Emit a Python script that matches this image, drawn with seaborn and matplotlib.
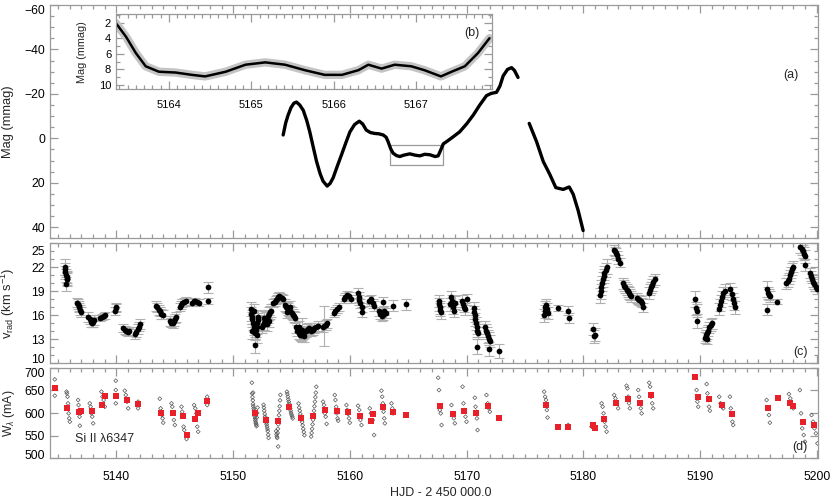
import matplotlib
matplotlib.use("Agg")
import matplotlib.pyplot as plt
from matplotlib.patches import Rectangle
from matplotlib.ticker import MultipleLocator, FixedLocator
from matplotlib.transforms import ScaledTranslation
import seaborn as sns

# light curve (a), two segments
lc1_t = [5154.28, 5154.5, 5154.7, 5154.95, 5155.2, 5155.42, 5155.7, 5156.0, 5156.3, 5156.56,
         5156.85, 5157.14, 5157.45, 5157.7, 5158.05, 5158.3, 5158.56, 5158.9, 5159.28, 5159.65,
         5160.0, 5160.4, 5160.8, 5161.1, 5161.4, 5161.75, 5162.1, 5162.5, 5162.85, 5163.1,
         5163.27, 5163.5, 5163.7, 5164.0, 5164.28, 5164.6, 5165.13, 5165.6, 5166.0, 5166.4,
         5166.85, 5167.3, 5167.56, 5167.8, 5168.0, 5168.28, 5168.8, 5169.4, 5170.0, 5170.56,
         5171.1, 5171.7, 5172.1, 5172.56, 5172.85, 5173.13, 5173.5, 5173.85, 5174.1, 5174.4]
lc1_mag = [-1.5, -7.0, -10.4, -13.8, -15.8, -16.3, -15.0, -12.6, -8.0, -2.9,
           3.8, 10.4, 16.0, 19.3, 21.5, 20.3, 17.8, 12.8, 7.4, 2.0,
           -2.9, -6.2, -7.7, -6.4, -3.7, -2.6, -2.2, -2.0, -1.5, -0.5,
           1.5, 4.8, 6.7, 7.8, 8.2, 7.6, 7.0, 7.6, 7.9, 7.2,
           7.4, 8.2, 7.9, 5.0, 2.5, 1.5, -0.5, -2.9, -6.5, -10.4,
           -14.8, -19.2, -20.2, -20.7, -23.5, -28.1, -31.0, -31.8, -30.5, -27.4]
lc2_t = [5175.36, 5175.99, 5176.56, 5177.13, 5177.64, 5178.27, 5178.79, 5179.13, 5179.56, 5179.98]
lc2_mag = [-6.7, 1.5, 10.4, 16.3, 22.2, 23.0, 21.9, 25.2, 32.6, 41.5]

# zoomed light curve (b)
zoom_t = [5163.36, 5163.48, 5163.6, 5163.72, 5163.88, 5164.08, 5164.28, 5164.44, 5164.69, 5164.93,
          5165.17, 5165.41, 5165.65, 5165.89, 5166.1, 5166.3, 5166.42, 5166.58, 5166.74, 5166.94,
          5167.1, 5167.3, 5167.43, 5167.59, 5167.75, 5167.89]
zoom_mag = [2.1, 3.8, 5.9, 7.6, 8.3, 8.4, 8.7, 8.9, 8.3, 7.4,
            7.1, 7.4, 8.1, 8.7, 8.7, 8.1, 7.4, 7.9, 7.4, 7.6,
            8.1, 8.9, 8.3, 7.6, 5.9, 4.0]

# radial velocities (c)
vrad_t = [
    5135.55, 5135.6, 5135.62, 5135.68, 5135.72, 5135.75, 5135.8, 5135.7,
    5136.6, 5136.68, 5136.75, 5136.82, 5136.9, 5136.98,
    5137.6, 5137.7, 5137.8, 5137.9, 5138.0, 5138.1,
    5138.6, 5138.75, 5138.9, 5139.05,
    5139.88, 5139.95, 5140.0,
    5140.6, 5140.7, 5140.8, 5140.95, 5141.1,
    5141.6, 5141.7, 5141.8, 5141.9, 5142.0,
    5143.4, 5143.5, 5143.6, 5143.7, 5143.8, 5143.95,
    5144.6, 5144.7, 5144.8, 5144.9, 5145.0, 5145.1,
    5145.4, 5145.5, 5145.65, 5145.8, 5145.95,
    5146.45, 5146.6, 5146.75, 5146.9, 5147.05,
    5147.8, 5147.8,
    5151.5, 5151.55, 5151.6, 5151.65, 5151.7, 5151.75, 5151.8, 5151.85, 5151.9, 5151.95,
    5152.0, 5152.05, 5152.1, 5152.15, 5151.6, 5151.8, 5152.0, 5151.9,
    5152.45, 5152.55, 5152.65, 5152.75, 5152.85, 5152.95, 5153.05, 5153.15, 5153.25,
    5152.6, 5152.9, 5153.1,
    5153.45, 5153.55, 5153.65, 5153.75, 5153.85, 5153.95, 5154.05, 5154.15, 5154.25,
    5154.4, 5154.5, 5154.6, 5154.7, 5154.8, 5154.9, 5155.0, 5155.1, 5155.2, 5155.3, 5154.6, 5154.9,
    5155.4, 5155.5, 5155.6, 5155.7, 5155.8, 5155.9, 5156.0, 5156.1, 5156.2, 5156.3, 5156.4, 5156.5,
    5155.6, 5155.9, 5156.1,
    5156.65, 5156.8, 5156.95, 5157.1, 5157.25,
    5157.65, 5157.8, 5157.95, 5158.05,
    5158.6, 5158.75, 5158.9, 5159.05,
    5159.45, 5159.6, 5159.75, 5159.9, 5160.05,
    5160.7, 5160.75, 5160.8, 5160.9, 5161.0, 5161.05,
    5161.65, 5161.8, 5161.95, 5162.05,
    5162.45, 5162.6, 5162.75, 5162.85, 5162.95, 5163.05, 5162.85,
    5163.7, 5164.8,
    5167.6, 5167.65, 5167.7, 5167.75, 5167.8,
    5168.6, 5168.7, 5168.75, 5168.8, 5168.9, 5169.0,
    5169.6, 5169.7, 5169.8, 5169.9, 5170.0,
    5170.6, 5170.65, 5170.7, 5170.75, 5170.8, 5170.85, 5170.9, 5170.95, 5170.85,
    5171.6, 5171.7, 5171.75, 5171.8, 5171.9, 5172.0, 5171.9,
    5172.8,
    5176.6, 5176.7, 5176.75, 5176.8, 5176.9, 5177.0,
    5177.8, 5178.7, 5178.8,
    5180.8, 5180.9, 5181.0,
    5181.4, 5181.5, 5181.55, 5181.6, 5181.7, 5181.75, 5181.8, 5181.9, 5182.0,
    5182.6, 5182.7, 5182.8, 5182.9, 5183.0, 5183.1,
    5183.4, 5183.5, 5183.6, 5183.7, 5183.8, 5183.9, 5184.0, 5184.1,
    5184.6, 5184.7, 5184.8, 5184.9, 5185.0, 5185.1,
    5185.6, 5185.7, 5185.8, 5185.9, 5186.0, 5186.1,
    5189.6, 5189.65, 5189.7, 5189.75,
    5190.4, 5190.5, 5190.6, 5190.7, 5190.8, 5190.9, 5191.0, 5190.6,
    5191.6, 5191.7, 5191.8, 5191.9, 5192.0, 5192.1,
    5192.6, 5192.7, 5192.8, 5192.9, 5193.0,
    5195.7, 5195.8, 5195.9, 5196.0, 5195.7,
    5196.6,
    5197.4, 5197.5, 5197.6, 5197.7, 5197.8, 5197.9, 5198.0,
    5198.6, 5198.7, 5198.8, 5198.9, 5199.0, 5199.0,
    5199.4, 5199.5, 5199.6, 5199.7, 5199.8, 5199.9, 5200.0,
]
vrad_v = [
    22.1, 21.8, 21.4, 21.0, 20.8, 20.5, 20.6, 19.9,
    17.6, 17.4, 17.2, 17.0, 16.7, 16.4,
    15.8, 15.5, 15.2, 15.1, 15.2, 15.4,
    15.7, 15.8, 15.9, 16.0,
    16.6, 16.9, 17.1,
    14.4, 14.2, 14.0, 13.9, 14.0,
    13.7, 13.9, 14.3, 14.6, 14.9,
    17.2, 17.0, 16.7, 16.5, 16.2, 16.1,
    15.3, 15.1, 15.0, 15.3, 15.6, 15.8,
    17.1, 17.3, 17.6, 17.7, 17.8,
    17.6, 17.8, 17.8, 17.7, 17.6,
    19.5, 17.8,
    16.8, 16.2, 15.8, 15.5, 15.1, 14.8, 14.4, 14.0, 13.8, 14.2,
    14.6, 15.0, 15.4, 15.8, 14.0, 16.5, 13.5, 12.3,
    14.6, 14.8, 15.0, 15.3, 15.6, 15.9, 16.2, 16.4, 16.6,
    15.7, 14.9, 15.3,
    17.5, 17.7, 17.9, 18.1, 18.3, 18.4, 18.3, 18.2, 18.0,
    17.3, 17.1, 17.0, 16.8, 16.6, 16.5, 16.3, 16.1, 15.9, 15.7, 16.4, 17.1,
    14.5, 14.1, 13.8, 13.6, 13.5, 13.6, 13.7, 13.9, 14.0, 14.2, 14.3, 14.4,
    14.6, 14.2, 13.4,
    14.0, 14.2, 14.4, 14.5, 14.7,
    14.5, 14.7, 14.8, 15.0,
    16.3, 16.5, 16.8, 17.0,
    18.0, 18.3, 18.5, 18.4, 18.1,
    18.8, 18.3, 17.9, 17.5, 17.0, 16.4,
    17.8, 18.0, 17.5, 17.2,
    16.5, 16.2, 15.9, 16.0, 16.6, 16.3, 17.7,
    17.2, 17.4,
    17.8, 17.4, 17.0, 16.7, 16.4,
    17.4, 18.3, 17.8, 17.0, 16.6, 17.6,
    17.8, 17.4, 17.1, 16.8, 18.0,
    16.9, 16.4, 16.0, 15.5, 15.0, 14.5, 14.1, 13.8, 12.1,
    14.5, 14.1, 13.8, 13.4, 13.1, 12.8, 11.8,
    11.5,
    16.0, 16.5, 17.0, 17.3, 16.8, 16.3,
    16.9, 16.6, 15.7,
    14.3, 13.4, 13.6,
    18.5, 19.0, 19.5, 20.0, 20.5, 20.9, 21.3, 21.7, 22.1,
    24.2, 24.0, 23.8, 23.5, 23.0, 22.6,
    20.0, 19.7, 19.5, 19.2, 19.0, 18.8, 18.6, 18.4,
    18.2, 18.0, 17.9, 17.8, 17.6, 17.0,
    18.8, 19.2, 19.5, 19.8, 20.2, 20.5,
    18.0, 16.9, 16.6, 15.3,
    13.2, 13.5, 13.8, 14.1, 14.5, 14.8, 15.0, 13.1,
    16.8, 17.3, 17.8, 18.3, 18.8, 19.1,
    19.3, 18.7, 18.0, 17.5, 17.0,
    19.3, 18.8, 18.6, 18.4, 16.7,
    17.7,
    20.0, 20.3, 20.6, 21.0, 21.4, 21.8, 22.1,
    24.6, 24.3, 24.0, 23.7, 23.4, 22.3,
    21.3, 20.9, 20.6, 20.2, 19.9, 19.6, 19.3,
]
vrad_err = [
    1.0, 0.8, 0.8, 0.8, 0.8, 0.8, 0.8, 0.9,
    0.6, 0.6, 0.6, 0.6, 0.6, 0.6,
    0.6, 0.6, 0.6, 0.6, 0.6, 0.6,
    0.4, 0.4, 0.4, 0.4,
    0.5, 0.5, 0.5,
    0.5, 0.5, 0.5, 0.5, 0.5,
    0.6, 0.6, 0.6, 0.6, 0.6,
    0.6, 0.6, 0.6, 0.6, 0.6, 0.6,
    0.6, 0.6, 0.6, 0.6, 0.6, 0.6,
    0.5, 0.5, 0.5, 0.5, 0.5,
    0.4, 0.4, 0.4, 0.4, 0.4,
    0.65, 0.4,
    0.9, 0.9, 0.9, 0.9, 0.9, 0.9, 0.9, 0.9, 0.9, 0.9,
    0.9, 0.9, 0.9, 0.9, 0.9, 0.9, 0.9, 1.0,
    0.8, 0.8, 0.8, 0.8, 0.8, 0.8, 0.8, 0.8, 0.8,
    0.8, 0.8, 0.8,
    0.5, 0.5, 0.5, 0.5, 0.5, 0.5, 0.5, 0.5, 0.5,
    0.7, 0.7, 0.7, 0.7, 0.7, 0.7, 0.7, 0.7, 0.7, 0.7, 0.7, 0.7,
    0.7, 0.7, 0.7, 0.7, 0.7, 0.7, 0.7, 0.7, 0.7, 0.7, 0.7, 0.7,
    0.7, 1.5, 0.7,
    0.6, 0.6, 0.6, 0.6, 0.6,
    0.6, 2.5, 0.6, 0.6,
    0.5, 0.5, 0.5, 0.5,
    0.5, 0.5, 0.5, 0.5, 0.5,
    0.6, 0.6, 0.6, 0.6, 0.6, 0.6,
    0.6, 0.6, 0.6, 0.6,
    0.6, 0.6, 0.6, 0.6, 0.6, 0.6, 0.6,
    0.7, 0.7,
    0.8, 0.8, 0.8, 0.8, 0.8,
    0.8, 0.8, 0.8, 0.8, 0.8, 0.8,
    0.7, 0.7, 0.7, 0.7, 0.7,
    0.8, 0.8, 0.8, 0.8, 0.8, 0.8, 0.8, 0.8, 0.9,
    0.8, 0.8, 0.8, 0.8, 0.8, 0.8, 0.9,
    0.9,
    0.8, 0.8, 0.8, 0.8, 0.8, 0.8,
    0.4, 0.6, 0.6,
    0.8, 0.8, 0.8,
    0.9, 0.9, 0.9, 0.9, 0.9, 0.9, 0.9, 0.9, 0.9,
    0.6, 0.6, 0.6, 0.6, 0.6, 0.6,
    0.7, 0.7, 0.7, 0.7, 0.7, 0.7, 0.7, 0.7,
    0.6, 0.6, 0.6, 0.6, 0.6, 0.6,
    0.7, 0.7, 0.7, 0.7, 0.7, 0.7,
    1.0, 0.8, 0.8, 0.9,
    0.7, 0.7, 0.7, 0.7, 0.7, 0.7, 0.7, 0.7,
    0.8, 0.8, 0.8, 0.8, 0.8, 0.8,
    0.8, 0.8, 0.8, 0.8, 0.8,
    1.0, 0.7, 0.7, 0.7, 0.7,
    0.3,
    0.7, 0.7, 0.7, 0.7, 0.7, 0.7, 0.7,
    0.8, 0.8, 0.8, 0.8, 0.8, 0.8,
    0.6, 0.6, 0.6, 0.6, 0.6, 0.6, 0.6,
]

# equivalent widths (d): individual spectra and nightly means
ew_t = [
    5134.71, 5134.71,
    5135.72, 5135.75, 5135.8, 5135.85, 5135.9, 5135.95, 5136.0,
    5136.71, 5136.75, 5136.8, 5136.83, 5136.86,
    5137.71, 5137.78, 5137.85, 5137.92, 5138.0,
    5138.71, 5138.8, 5138.9, 5139.0,
    5139.94, 5139.94, 5139.94, 5139.94,
    5140.71, 5140.8, 5140.9, 5141.0,
    5141.85, 5141.85, 5141.85,
    5143.71, 5143.78, 5143.84, 5143.9, 5143.95, 5144.0,
    5144.71, 5144.78, 5144.85, 5144.92, 5145.0,
    5145.57, 5145.63, 5145.7, 5145.75, 5145.8,
    5146.0,
    5146.65, 5146.75, 5146.85, 5146.92, 5147.0,
    5147.77, 5147.77,
    5151.6, 5151.62, 5151.65, 5151.68, 5151.7, 5151.72, 5151.75, 5151.78, 5151.8, 5151.82,
    5151.85, 5151.88, 5151.9, 5151.92, 5151.95, 5151.98, 5152.0, 5152.02, 5152.05, 5152.08, 5151.7,
    5152.6, 5152.63, 5152.66, 5152.7, 5152.73, 5152.76, 5152.8, 5152.83, 5152.86, 5152.9,
    5152.93, 5152.96, 5153.0, 5153.03,
    5153.68, 5153.71, 5153.74, 5153.77, 5153.8, 5153.83, 5153.86, 5153.89, 5153.92, 5153.95,
    5153.98, 5154.01, 5154.04, 5153.85,
    5154.6, 5154.64, 5154.68, 5154.72, 5154.76, 5154.8, 5154.84, 5154.88, 5154.92, 5154.96,
    5155.0, 5155.05, 5155.1,
    5155.6, 5155.65, 5155.7, 5155.75, 5155.8, 5155.85, 5155.9, 5155.95, 5156.0, 5156.05, 5156.1,
    5156.68, 5156.72, 5156.76, 5156.8, 5156.84, 5156.88, 5156.92, 5156.96, 5157.0, 5157.04,
    5157.08, 5157.12,
    5157.7, 5157.78, 5157.85, 5157.92, 5158.0,
    5158.7, 5158.76, 5158.82, 5158.88, 5158.94, 5158.99,
    5159.7, 5159.77, 5159.84, 5159.92, 5159.99,
    5160.7, 5160.8, 5160.9, 5160.99,
    5161.7, 5161.8, 5161.95, 5162.07,
    5162.7, 5162.76, 5162.82, 5162.88, 5162.94, 5162.99,
    5163.56, 5163.63, 5163.7,
    5167.56, 5167.63, 5167.7, 5167.78, 5167.85,
    5168.7, 5168.8, 5168.9, 5168.99,
    5169.65, 5169.73, 5169.8, 5169.9, 5169.99,
    5170.7, 5170.76, 5170.82, 5170.88, 5170.93,
    5171.7, 5171.8, 5171.9, 5171.99,
    5176.64, 5176.72, 5176.8, 5176.87, 5176.93,
    5178.7,
    5180.7,
    5181.56, 5181.65, 5181.73, 5181.82, 5181.9, 5181.99,
    5182.64, 5182.75, 5182.87, 5182.98,
    5183.7, 5183.77, 5183.84, 5183.91, 5183.98,
    5184.7, 5184.77, 5184.84, 5184.92, 5184.99,
    5185.64, 5185.72, 5185.8, 5185.9, 5185.98,
    5189.7, 5189.77, 5189.84,
    5190.56, 5190.63, 5190.7, 5190.77, 5190.84,
    5191.64, 5191.75, 5191.87, 5191.98,
    5192.56, 5192.63, 5192.7, 5192.77, 5192.84,
    5195.7, 5195.8, 5195.9, 5195.98,
    5197.61, 5197.73, 5197.86, 5197.98,
    5198.55, 5198.65, 5198.75, 5198.88, 5198.98,
    5199.55, 5199.68, 5199.8, 5199.92, 5200.06,
]
ew_w = [
    674.3, 638.2,
    647.1, 643.4, 636.0, 621.3, 599.2, 588.2, 580.8,
    628.7, 617.6, 606.6, 591.9, 572.0,
    621.3, 613.9, 599.2, 591.9, 577.2,
    647.1, 636.0, 628.7, 613.9,
    671.3, 650.7, 636.0, 621.3,
    649.3, 639.7, 625.0, 610.3,
    625.0, 617.6, 610.3,
    631.6, 610.3, 602.9, 595.5, 588.2, 578.6,
    621.3, 613.9, 599.2, 584.5, 573.5,
    613.9, 602.9, 591.9, 569.8, 562.4,
    542.6,
    617.6, 610.3, 599.2, 569.8, 558.7,
    636.0, 617.6,
    667.0, 643.0, 635.0, 628.0, 620.0, 615.0, 610.0, 606.0, 600.0, 597.0,
    592.0, 588.0, 584.0, 580.0, 577.0, 574.0, 571.0, 590.0, 600.0, 612.0, 645.0,
    618.0, 612.0, 605.0, 598.0, 592.0, 588.0, 583.0, 579.0, 575.0, 570.0,
    565.0, 560.0, 552.0, 545.0,
    560.0, 553.0, 548.0, 545.0, 556.0, 565.0, 575.0, 585.0, 595.0, 605.0,
    615.0, 628.0, 640.0, 526.0,
    647.0, 642.0, 636.0, 630.0, 625.0, 620.0, 615.0, 610.0, 605.0, 600.0,
    596.0, 592.0, 588.0,
    621.0, 612.0, 605.0, 598.0, 592.0, 586.0, 580.0, 573.0, 565.0, 558.0, 551.0,
    548.0, 556.0, 565.0, 575.0, 585.0, 595.0, 605.0, 615.0, 625.0, 635.0,
    645.0, 658.0,
    625.0, 617.6, 599.2, 591.9, 576.0,
    639.7, 628.7, 613.9, 599.2, 588.2, 583.0,
    617.6, 606.6, 597.7, 588.2, 578.6,
    616.1, 606.6, 584.5, 573.5,
    610.3, 599.2, 584.5, 551.4,
    649.3, 636.0, 621.3, 602.9, 588.2, 577.2,
    621.3, 610.3, 599.2,
    677.9, 650.7, 606.6, 599.2, 573.5,
    617.6, 599.2, 588.2, 577.2,
    658.1, 621.3, 606.6, 591.9, 580.8,
    633.8, 613.9, 602.9, 588.2, 562.4,
    639.7, 621.3, 610.3, 602.9,
    647.1, 636.0, 628.7, 606.6, 590.0,
    573.5,
    569.8,
    621.3, 613.9, 599.2, 580.8, 569.8, 558.7,
    639.7, 632.3, 621.3, 610.3,
    660.3, 654.4, 636.0, 621.3, 610.3,
    650.7, 636.0, 621.3, 610.3, 599.2,
    666.9, 658.1, 636.0, 621.3, 610.3,
    650.7, 625.0, 613.9,
    664.0, 643.4, 628.7, 613.9, 605.1,
    636.0, 621.3, 613.9, 610.3,
    636.0, 610.3, 595.5, 580.8, 573.5,
    628.7, 610.3, 595.5, 578.6,
    641.9, 632.3, 617.6, 610.3,
    650.7, 599.2, 566.1, 551.4, 536.7,
    595.5, 580.8, 566.1, 555.1, 533.0,
]
mean_t = [5134.71, 5135.8, 5136.77, 5137.0, 5137.86, 5138.77, 5139.0, 5139.94, 5140.88, 5141.83,
          5143.8, 5144.8, 5145.74, 5146.0, 5146.74, 5147.0, 5147.77, 5151.85, 5152.85, 5153.85,
          5154.8, 5155.85, 5156.85, 5157.85, 5158.85, 5159.8, 5160.85, 5161.77, 5162.0, 5162.85,
          5163.7, 5164.79, 5167.7, 5168.79, 5169.79, 5170.8, 5171.84, 5172.76, 5176.79, 5177.79,
          5178.7, 5180.79, 5181.0, 5181.78, 5182.79, 5183.84, 5184.82, 5185.8, 5189.6, 5189.78,
          5190.78, 5191.84, 5192.7, 5195.84, 5196.64, 5197.7, 5197.95, 5198.78, 5199.77]
mean_w = [655.9, 611.7, 602.9, 604.4, 604.4, 617.7, 638.2, 638.2, 628.7, 619.9,
          599.3, 599.3, 594.1, 552.2, 586.8, 599.3, 625.8, 600.0, 585.2, 582.4,
          613.9, 589.7, 594.1, 606.6, 605.1, 602.9, 592.7, 582.4, 597.1, 613.3,
          602.2, 596.3, 616.1, 597.8, 603.8, 600.7, 616.1, 588.3, 617.0, 568.4,
          569.1, 573.5, 567.6, 586.8, 622.8, 630.9, 622.8, 640.4, 680.1, 634.7,
          630.9, 617.0, 598.5, 611.7, 633.1, 622.8, 616.1, 579.5, 572.9]

vrad_ticks = [10, 13, 16, 19, 22, 25]

sns.set_theme(style="ticks")
plt.rcParams['font.family'] = ['Liberation Sans', 'DejaVu Sans']
plt.rcParams['mathtext.fontset'] = 'custom'
plt.rcParams['mathtext.rm'] = 'Liberation Sans'
plt.rcParams['mathtext.it'] = 'Liberation Sans:italic'

AXC = '#9a9a9a'
TICK_FS = 8.7
LAB_FS = 9.3


def style_axis(ax, xmaj=10, xmin=1):
    for s in ax.spines.values():
        s.set_color(AXC)
        s.set_linewidth(0.9)
    ax.xaxis.set_major_locator(MultipleLocator(xmaj))
    ax.xaxis.set_minor_locator(MultipleLocator(xmin))
    ax.tick_params(which='both', direction='in', top=True, right=True, color=AXC,
                   labelsize=TICK_FS, labelcolor='black', width=0.9)
    ax.tick_params(which='major', length=6)
    ax.tick_params(which='minor', length=3)
    ax.set_xlabel('')
    ax.set_ylabel('')


def nudge_ylabels(ax, shifts):
    # move end tick labels inside the frame, as in the original
    for tick in ax.yaxis.get_major_ticks():
        for val, dy in shifts.items():
            if abs(tick.get_loc() - val) < 1e-6:
                off = ScaledTranslation(0, dy / 72.0, fig.dpi_scale_trans)
                tick.label1.set_transform(tick.label1.get_transform() + off)


fig = plt.figure(figsize=(8.3, 4.98), dpi=100)
ax_a = fig.add_axes([0.0602, 0.5215, 0.9253, 0.4685])
ax_c = fig.add_axes([0.0602, 0.2705, 0.9253, 0.2406])
ax_d = fig.add_axes([0.0602, 0.0797, 0.9253, 0.1819])
ax_b = fig.add_axes([0.1398, 0.8207, 0.4530, 0.1512])

# (a) light curve
sns.lineplot(x=lc1_t, y=lc1_mag, ax=ax_a, color='black', lw=2.4, sort=False, estimator=None)
sns.lineplot(x=lc2_t, y=lc2_mag, ax=ax_a, color='black', lw=2.4, sort=False, estimator=None)
ax_a.add_patch(Rectangle((5163.45, 3.0), 4.55, 9.0, fill=False, edgecolor=AXC, lw=0.9))
style_axis(ax_a)
ax_a.set_xlim(5134.3, 5200.1)
ax_a.set_ylim(45, -60)
ax_a.yaxis.set_major_locator(MultipleLocator(20))
ax_a.yaxis.set_minor_locator(MultipleLocator(5))
ax_a.set_xticklabels([])
ax_a.set_ylabel('Mag (mmag)', fontsize=LAB_FS)
ax_a.yaxis.set_label_coords(-0.047, 0.5)
ax_a.text(0.965, 0.70, '(a)', transform=ax_a.transAxes, fontsize=9, ha='center', va='center')

# (b) zoomed light curve: grey band for the point scatter, black line for the trend
sns.lineplot(x=zoom_t, y=zoom_mag, ax=ax_b, color='#c4c4c4', lw=6, sort=False, estimator=None)
sns.lineplot(x=zoom_t, y=zoom_mag, ax=ax_b, color='black', lw=1.8, sort=False, estimator=None)
style_axis(ax_b, xmaj=1, xmin=0.1)
ax_b.set_xlim(5163.36, 5167.92)
ax_b.set_ylim(10.55, 0.9)
ax_b.yaxis.set_major_locator(MultipleLocator(2))
ax_b.yaxis.set_minor_locator(MultipleLocator(1))
ax_b.tick_params(which='both', labelsize=8)
ax_b.tick_params(axis='x', pad=7.5)
ax_b.set_ylabel('Mag (mmag)', fontsize=7.8)
ax_b.yaxis.set_label_coords(-0.077, 0.5)
ax_b.text(0.947, 0.75, '(b)', transform=ax_b.transAxes, fontsize=9, ha='center', va='center')

# (c) radial velocities
ax_c.errorbar(vrad_t, vrad_v, yerr=vrad_err, fmt='none', ecolor='#b0b0b0', elinewidth=0.8,
              capsize=3.5, capthick=0.8, zorder=1)
sns.scatterplot(x=vrad_t, y=vrad_v, ax=ax_c, color='black', s=17, linewidth=0, zorder=3)
style_axis(ax_c)
ax_c.set_xlim(5134.3, 5200.1)
ax_c.set_ylim(10, 25)
ax_c.yaxis.set_major_locator(FixedLocator(vrad_ticks))
ax_c.yaxis.set_minor_locator(MultipleLocator(1))
ax_c.set_xticklabels([])
ax_c.set_ylabel(r'v$_{\mathrm{rad}}$ (km s$^{\mathrm{-1}}$)', fontsize=LAB_FS)
ax_c.yaxis.set_label_coords(-0.043, 0.5)
ax_c.text(0.977, 0.094, '(c)', transform=ax_c.transAxes, fontsize=9, ha='center', va='center')

# (d) equivalent widths
sns.scatterplot(x=ew_t, y=ew_w, ax=ax_d, marker='D', s=4, facecolor='none',
                edgecolor='#555555', linewidth=0.5, zorder=2)
sns.scatterplot(x=mean_t, y=mean_w, ax=ax_d, marker='s', s=18, color='#e8202a',
                linewidth=0, zorder=3)
style_axis(ax_d)
ax_d.set_xlim(5134.3, 5200.1)
ax_d.set_ylim(500, 700)
ax_d.yaxis.set_major_locator(MultipleLocator(50))
ax_d.yaxis.set_minor_locator(MultipleLocator(50))
ax_d.tick_params(axis='x', pad=9)
ax_d.set_ylabel(r'W$_{\lambda}$ (mA)', fontsize=8.8)
ax_d.yaxis.set_label_coords(-0.043, 0.5)
ax_d.text(0.977, 0.125, '(d)', transform=ax_d.transAxes, fontsize=9, ha='center', va='center')
ax_d.text(0.033, 0.21, 'Si II λ6347', transform=ax_d.transAxes, fontsize=9, ha='left', va='center')

fig.text(0.531, 0.011, 'HJD - 2 450 000.0', fontsize=9, ha='center', va='center')

fig.canvas.draw()
nudge_ylabels(ax_a, {-60: -3.6})
nudge_ylabels(ax_c, {25: -5.0, 10: 3.6})
nudge_ylabels(ax_d, {700: -3.6, 500: 3.0})

fig.savefig('out.png', dpi=100)
